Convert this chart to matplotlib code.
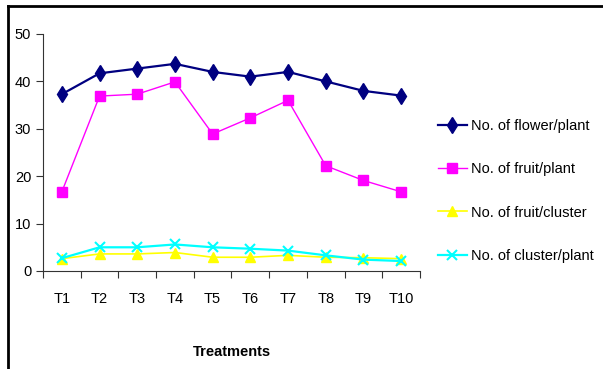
import matplotlib
matplotlib.use("Agg")
import matplotlib.pyplot as plt
from matplotlib.lines import Line2D

plt.rcParams['font.family'] = ['Liberation Sans Narrow', 'Liberation Sans', 'DejaVu Sans']

treatments = ["T1", "T2", "T3", "T4", "T5", "T6", "T7", "T8", "T9", "T10"]
flower_plant = [37.3, 41.7, 42.7, 43.7, 42.0, 41.0, 42.0, 40.0, 38.0, 37.0]
fruit_plant = [16.7, 36.9, 37.3, 39.9, 28.9, 32.3, 36.0, 22.2, 19.1, 16.7]
fruit_cluster = [2.6, 3.6, 3.6, 3.9, 2.9, 2.9, 3.3, 2.9, 2.8, 2.6]
cluster_plant = [2.7, 5.0, 5.0, 5.6, 5.0, 4.7, 4.3, 3.3, 2.4, 2.1]

fig = plt.figure(figsize=(6.03, 3.69), dpi=100)
ax = fig.add_axes([0.0713, 0.2656, 0.6252, 0.6423])

x = list(range(len(treatments)))
ax.plot(x, flower_plant, color="#000080", marker="d", ms=8, lw=1.6,
        label="No. of flower/plant")
ax.plot(x, fruit_plant, color="#ff00ff", marker="s", ms=7, lw=1.0,
        label="No. of fruit/plant")
ax.plot(x, fruit_cluster, color="#ffff00", marker="^", ms=7, lw=1.2,
        label="No. of fruit/cluster")
ax.plot(x, cluster_plant, color="#00ffff", marker="x", ms=7, mew=1.5, lw=1.6,
        label="No. of cluster/plant")

ax.set_xlim(-0.5, 9.5)
ax.set_ylim(0, 50)
ax.set_yticks(range(0, 51, 10))
ax.set_xticks([i - 0.5 for i in range(11)])
ax.set_xticklabels([])
ax.set_xticks(x, minor=True)
ax.set_xticklabels(treatments, minor=True)
ax.tick_params(axis="x", which="major", direction="out", length=5, color="#333")
ax.tick_params(axis="x", which="minor", length=0, pad=15, labelsize=10.5)
ax.tick_params(axis="y", direction="out", length=5, labelsize=10.5, color="#333")
for s in ["top", "right"]:
    ax.spines[s].set_visible(False)
for s in ["left", "bottom"]:
    ax.spines[s].set_color("#333")
ax.set_xlabel("Treatments", fontsize=10.5, fontweight="bold", labelpad=28)

ax.legend(loc="upper left", bbox_to_anchor=(0.726, 0.677), bbox_transform=fig.transFigure,
          frameon=False, fontsize=10.5, labelspacing=2.0, handlelength=2.0,
          handletextpad=0.25, borderaxespad=0, borderpad=0)

# outer border (cropped frame)
fig.add_artist(Line2D([8 / 603, 8 / 603], [0, 1 - 6 / 369], color="black", lw=2,
                      transform=fig.transFigure))
fig.add_artist(Line2D([8 / 603, 1], [1 - 6 / 369, 1 - 6 / 369], color="black", lw=2,
                      transform=fig.transFigure))

fig.savefig("out.png", dpi=100, facecolor="white")
